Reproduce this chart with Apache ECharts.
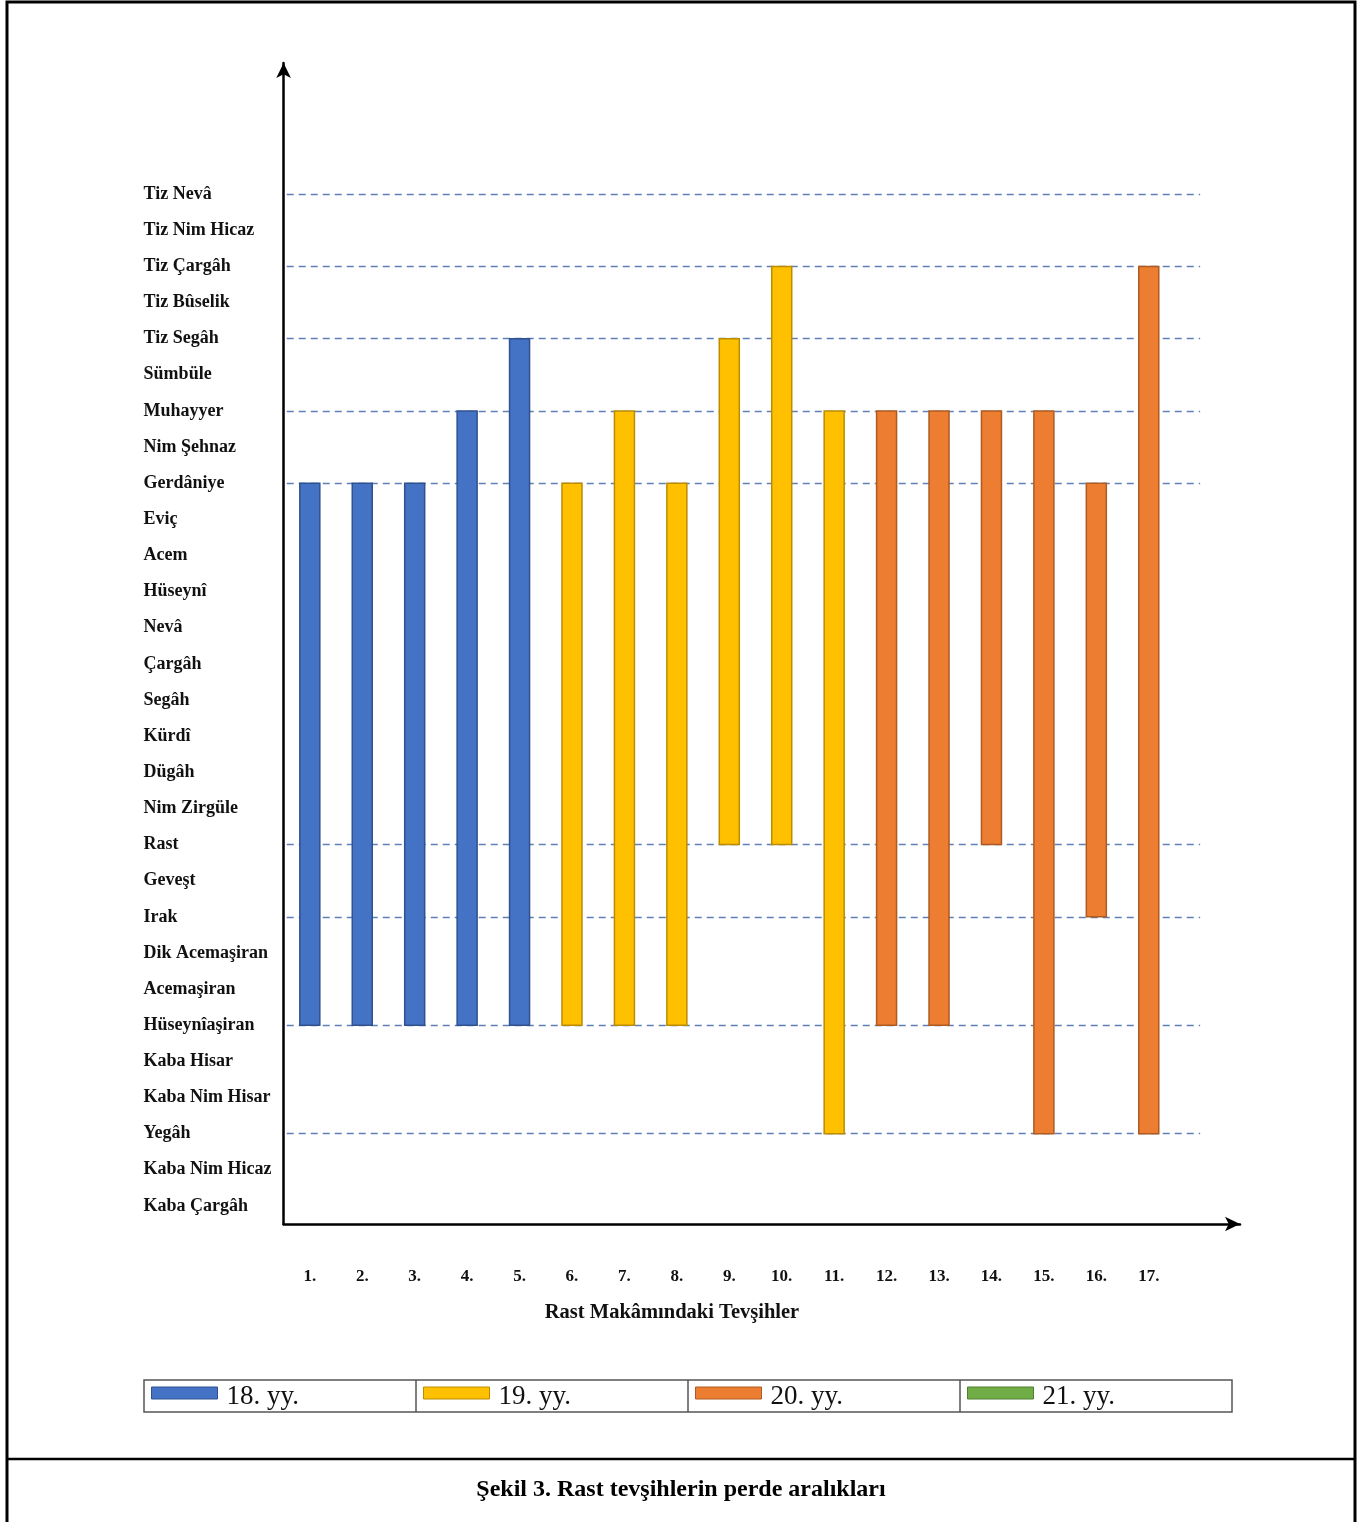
<!DOCTYPE html>
<html>
<head>
<meta charset="utf-8">
<script src="https://cdn.jsdelivr.net/npm/echarts@6/dist/echarts.min.js"></script>
<style>
  html, body { margin: 0; padding: 0; background: #ffffff; }
  #chart { width: 1364px; height: 1522px; }
</style>
</head>
<body>
<div id="chart"></div>
<script>
// Pitch names (perdeler), from the lowest to the highest
const pitchNames = [
  'Kaba Çargâh', 'Kaba Nim Hicaz', 'Yegâh', 'Kaba Nim Hisar', 'Kaba Hisar',
  'Hüseynîaşiran', 'Acemaşiran', 'Dik Acemaşiran', 'Irak', 'Geveşt',
  'Rast', 'Nim Zirgüle', 'Dügâh', 'Kürdî', 'Segâh', 'Çargâh', 'Nevâ',
  'Hüseynî', 'Acem', 'Eviç', 'Gerdâniye', 'Nim Şehnaz', 'Muhayyer',
  'Sümbüle', 'Tiz Segâh', 'Tiz Bûselik', 'Tiz Çargâh', 'Tiz Nim Hicaz', 'Tiz Nevâ'
];

// Tevşih numbers on the horizontal axis
const tevsihNumbers = [1, 2, 3, 4, 5, 6, 7, 8, 9, 10, 11, 12, 13, 14, 15, 16, 17];

// Lowest and highest pitch reached by each tevşih
const lowPitch = [
  'Hüseynîaşiran', 'Hüseynîaşiran', 'Hüseynîaşiran', 'Hüseynîaşiran', 'Hüseynîaşiran',
  'Hüseynîaşiran', 'Hüseynîaşiran', 'Hüseynîaşiran', 'Rast', 'Rast', 'Yegâh',
  'Hüseynîaşiran', 'Hüseynîaşiran', 'Rast', 'Yegâh', 'Irak', 'Yegâh'
];
const highPitch = [
  'Gerdâniye', 'Gerdâniye', 'Gerdâniye', 'Muhayyer', 'Tiz Segâh',
  'Gerdâniye', 'Muhayyer', 'Gerdâniye', 'Tiz Segâh', 'Tiz Çargâh', 'Muhayyer',
  'Muhayyer', 'Muhayyer', 'Muhayyer', 'Muhayyer', 'Gerdâniye', 'Tiz Çargâh'
];

// Century of each tevşih (index into periods)
const periodOf = [0, 0, 0, 0, 0, 1, 1, 1, 1, 1, 1, 2, 2, 2, 2, 2, 2];
const periods = ['18. yy.', '19. yy.', '20. yy.', '21. yy.'];

// Pitches marked with dashed guide lines
const guidePitches = [
  'Tiz Nevâ', 'Tiz Çargâh', 'Tiz Segâh', 'Muhayyer', 'Gerdâniye',
  'Rast', 'Irak', 'Hüseynîaşiran', 'Yegâh'
];

const periodFill = ['#4472C4', '#FFC000', '#ED7D31', '#70AD47'];
const periodStroke = ['#2F528F', '#BC8C00', '#AE5A21', '#507E32'];
const SERIF = "'Liberation Serif', 'Times New Roman', serif";

const chart = echarts.init(document.getElementById('chart'), null, { renderer: 'canvas' });

function makeRenderer(stroke) {
  return function (params, api) {
    const x = api.value(0);
    const top = api.coord([x, api.value(2)]);
    const bottom = api.coord([x, api.value(1)]);
    const w = 20;
    return {
      type: 'rect',
      shape: { x: top[0] - w / 2, y: top[1], width: w, height: bottom[1] - top[1] },
      style: { fill: api.visual('color'), stroke: stroke, lineWidth: 1.5 }
    };
  };
}

const series = periods.map(function (name, p) {
  const data = [];
  tevsihNumbers.forEach(function (n, i) {
    if (periodOf[i] === p) {
      data.push([n, pitchNames.indexOf(lowPitch[i]), pitchNames.indexOf(highPitch[i])]);
    }
  });
  const s = {
    name: name,
    type: 'custom',
    z: 3,
    itemStyle: { color: periodFill[p] },
    encode: { x: 0, y: [1, 2] },
    renderItem: makeRenderer(periodStroke[p]),
    data: data
  };
  if (p === 0) {
    s.markLine = {
      silent: true,
      z: 1,
      symbol: ['none', 'none'],
      label: { show: false },
      lineStyle: { color: '#5F7FB5', width: 1.3, type: [7, 5] },
      data: guidePitches.map(function (g) {
        const v = pitchNames.indexOf(g);
        return [{ coord: [0.56, v] }, { coord: [17.98, v] }];
      })
    };
  }
  return s;
});

const legendLeft = [151, 423, 695, 967];
const legends = periods.map(function (name, p) {
  return {
    left: legendLeft[p],
    top: 1383,
    padding: 0,
    orient: 'horizontal',
    itemWidth: 66,
    itemHeight: 12,
    itemGap: 0,
    selectedMode: false,
    formatter: '{t|{name}}',
    textStyle: {
      fontFamily: SERIF, fontSize: 27, color: '#111',
      rich: { t: { fontFamily: SERIF, fontSize: 27, color: '#111', padding: [7, 0, 0, 4] } }
    },
    data: [{
      name: name,
      icon: 'rect',
      itemStyle: { color: periodFill[p], borderColor: periodStroke[p], borderWidth: 1 }
    }]
  };
});

const option = {
  backgroundColor: '#ffffff',
  animation: false,
  grid: { left: 283.6, right: 124, top: 63, bottom: 298, containLabel: false },
  xAxis: {
    type: 'value',
    min: 0.5,
    max: 18.74,
    splitLine: { show: false },
    axisTick: { show: false },
    axisLine: {
      show: true,
      onZero: false,
      symbol: ['none', 'arrow'],
      symbolSize: [11, 15],
      lineStyle: { color: '#000', width: 2.5 }
    },
    axisLabel: {
      customValues: tevsihNumbers,
      formatter: function (v) { return v + '.'; },
      margin: 44,
      fontFamily: SERIF,
      fontWeight: 'bold',
      fontSize: 17,
      color: '#111'
    }
  },
  yAxis: {
    type: 'value',
    min: -0.5,
    max: 31.63,
    splitLine: { show: false },
    axisTick: { show: false },
    axisLine: {
      show: true,
      onZero: false,
      symbol: ['none', 'arrow'],
      symbolSize: [11, 15],
      lineStyle: { color: '#000', width: 2.5 }
    },
    axisLabel: {
      customValues: pitchNames.map(function (_, i) { return i; }),
      formatter: function (v) { return pitchNames[v]; },
      align: 'left',
      margin: 140,
      fontFamily: SERIF,
      fontWeight: 'bold',
      fontSize: 18,
      color: '#111',
      padding: [0, 0, 5, 0]
    }
  },
  legend: legends,
  series: series,
  graphic: [
    // outer frame and caption divider
    { type: 'rect', silent: true, shape: { x: 7, y: 2, width: 1348, height: 1530 },
      style: { fill: 'none', stroke: '#000', lineWidth: 3 } },
    { type: 'line', silent: true, shape: { x1: 7, y1: 1459, x2: 1355, y2: 1459 },
      style: { stroke: '#000', lineWidth: 2.5 } },
    // legend table
    { type: 'rect', silent: true, shape: { x: 144, y: 1380, width: 1088, height: 32 },
      style: { fill: 'none', stroke: '#555', lineWidth: 1.5 } },
    { type: 'line', silent: true, shape: { x1: 416, y1: 1380, x2: 416, y2: 1412 },
      style: { stroke: '#555', lineWidth: 1.5 } },
    { type: 'line', silent: true, shape: { x1: 688, y1: 1380, x2: 688, y2: 1412 },
      style: { stroke: '#555', lineWidth: 1.5 } },
    { type: 'line', silent: true, shape: { x1: 960, y1: 1380, x2: 960, y2: 1412 },
      style: { stroke: '#555', lineWidth: 1.5 } },
    // axis title
    { type: 'text', silent: true, x: 672, y: 1313,
      style: { text: 'Rast Makâmındaki Tevşihler', fill: '#111', font: 'bold 20.5px ' + SERIF,
               textAlign: 'center', textVerticalAlign: 'middle' } },
    // figure caption
    { type: 'text', silent: true, x: 681, y: 1490,
      style: { text: 'Şekil 3. Rast tevşihlerin perde aralıkları', fill: '#000', font: 'bold 24px ' + SERIF,
               textAlign: 'center', textVerticalAlign: 'middle' } }
  ]
};

chart.setOption(option);
</script>
</body>
</html>
